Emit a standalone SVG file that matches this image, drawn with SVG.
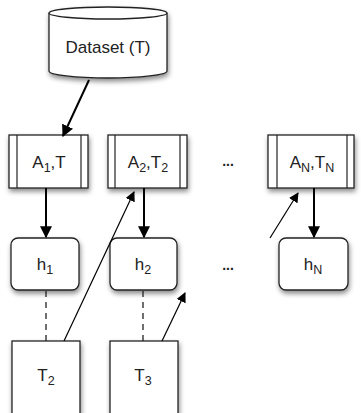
<svg xmlns="http://www.w3.org/2000/svg" width="361" height="413" viewBox="0 0 361 413">
<defs>
<filter id="sh" x="-20%" y="-20%" width="150%" height="150%">
<feDropShadow dx="1" dy="3" stdDeviation="2.5" flood-color="#000" flood-opacity="0.45"/>
</filter>
<marker id="ah" viewBox="0 0 10 10" refX="9" refY="5" markerWidth="10" markerHeight="10" markerUnits="userSpaceOnUse" orient="auto">
<path d="M0,0 L10,5 L0,10 z" fill="#000"/>
</marker>
<marker id="ahL" viewBox="0 0 10 10" refX="9" refY="5" markerWidth="12" markerHeight="12" markerUnits="userSpaceOnUse" orient="auto">
<path d="M0,0 L10,5 L0,10 z" fill="#000"/>
</marker>
</defs>
<style>
.box{fill:#fff;stroke:#222;stroke-width:1.3}
.ln{stroke:#222;stroke-width:1.2}
.t{font-family:"Liberation Sans",Arial,sans-serif;font-size:17px;fill:#222;text-anchor:middle}
.sub{font-size:12.5px}
.dots{font-family:"Liberation Sans",Arial,sans-serif;font-size:14px;font-weight:bold;fill:#222;text-anchor:middle}
.c{stroke:#000;stroke-width:2;fill:none}
.c1{stroke:#000;stroke-width:1.2;fill:none}
.d{stroke:#222;stroke-width:1.3;stroke-dasharray:6,5;fill:none}
</style>
<rect width="361" height="413" fill="#fff"/>
<g id="dataset">
<path class="box" filter="url(#sh)" d="M49,13 A59,6 0 0 1 167,13 L167,71 A59,7 0 0 1 49,71 Z"/>
<path class="box" d="M49,13 A59,6 0 0 0 167,13"/>
<text class="t" x="108" y="53">Dataset (T)</text>
</g>
<g id="a1">
<rect class="box" filter="url(#sh)" x="9" y="135" width="79" height="53"/>
<line class="ln" x1="17" y1="135" x2="17" y2="188"/>
<line class="ln" x1="81" y1="135" x2="81" y2="188"/>
<text class="t" x="49" y="168">A<tspan class="sub" dy="4">1</tspan><tspan dy="-4">,T</tspan></text>
</g>
<g id="a2">
<rect class="box" filter="url(#sh)" x="108" y="135" width="79" height="53"/>
<line class="ln" x1="115" y1="135" x2="115" y2="188"/>
<line class="ln" x1="180" y1="135" x2="180" y2="188"/>
<text class="t" x="148" y="168">A<tspan class="sub" dy="4">2</tspan><tspan dy="-4">,T</tspan><tspan class="sub" dy="4">2</tspan></text>
</g>
<g id="dots1"><text class="dots" x="228" y="166">...</text></g>
<g id="an">
<rect class="box" filter="url(#sh)" x="268" y="135" width="86" height="53"/>
<line class="ln" x1="277" y1="135" x2="277" y2="188"/>
<line class="ln" x1="347" y1="135" x2="347" y2="188"/>
<text class="t" x="312" y="168">A<tspan class="sub" dy="4">N</tspan><tspan dy="-4">,T</tspan><tspan class="sub" dy="4">N</tspan></text>
</g>
<g id="h1">
<rect class="box" filter="url(#sh)" x="11" y="238" width="68" height="52" rx="7"/>
<text class="t" x="45" y="270">h<tspan class="sub" dy="4">1</tspan></text>
</g>
<g id="h2">
<rect class="box" filter="url(#sh)" x="110" y="238" width="67" height="52" rx="7"/>
<text class="t" x="143" y="270">h<tspan class="sub" dy="4">2</tspan></text>
</g>
<g id="dots2"><text class="dots" x="228" y="270">...</text></g>
<g id="hn">
<rect class="box" filter="url(#sh)" x="279" y="238" width="69" height="52" rx="7"/>
<text class="t" x="313" y="270">h<tspan class="sub" dy="4">N</tspan></text>
</g>
<g id="t2">
<rect class="box" filter="url(#sh)" x="12" y="341" width="68" height="80"/>
<text class="t" x="46" y="381">T<tspan class="sub" dy="4">2</tspan></text>
</g>
<g id="t3">
<rect class="box" filter="url(#sh)" x="110" y="341" width="68" height="80"/>
<text class="t" x="143" y="381">T<tspan class="sub" dy="4">3</tspan></text>
</g>
<g id="connectors">
<line class="c" x1="89" y1="80" x2="63" y2="136" marker-end="url(#ahL)"/>
<line class="c" x1="46" y1="188" x2="46" y2="237" marker-end="url(#ahL)"/>
<line class="c" x1="144" y1="188" x2="144" y2="237" marker-end="url(#ahL)"/>
<line class="c" x1="314" y1="188" x2="314" y2="237" marker-end="url(#ahL)"/>
<line class="c1" x1="64" y1="341" x2="134" y2="192" marker-end="url(#ah)"/>
<line class="c1" x1="270" y1="238" x2="298" y2="193" marker-end="url(#ah)"/>
<line class="c1" x1="162" y1="341" x2="185" y2="293" marker-end="url(#ah)"/>
<line class="d" x1="46" y1="291" x2="46" y2="341"/>
<line class="d" x1="143" y1="291" x2="143" y2="341"/>
</g>
</svg>
